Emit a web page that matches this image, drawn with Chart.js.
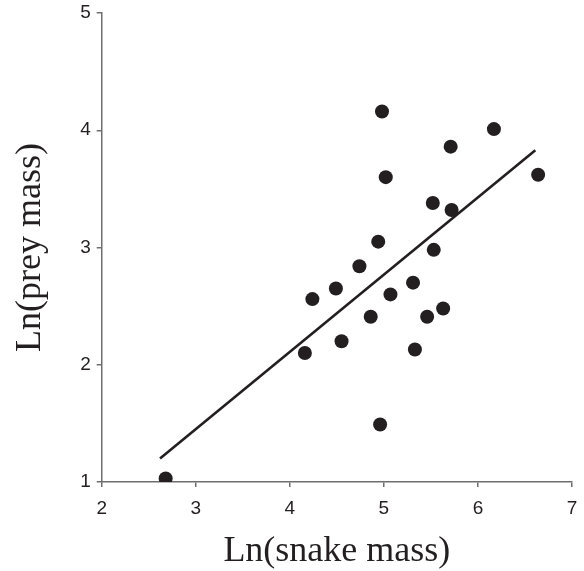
<!DOCTYPE html>
<html>
<head>
<meta charset="utf-8">
<script src="https://cdn.jsdelivr.net/npm/chart.js@4/dist/chart.umd.min.js"></script>
<style>
  html, body { margin: 0; padding: 0; background: #fff; }
  #wrap { width: 584px; height: 571px; }
</style>
</head>
<body>
<div id="wrap"><canvas id="scatterChart"></canvas></div>
<script>
// snake vs prey mass (log scale)
const snakeMass = [4.98, 6.17, 5.71, 5.02, 6.64, 5.52, 5.72, 4.94, 5.53, 4.74, 4.49,
                   4.24, 5.31, 5.07, 5.63, 4.86, 5.46, 4.55, 4.16, 5.33, 4.96, 2.68];
const preyMass  = [4.16, 4.01, 3.86, 3.60, 3.62, 3.38, 3.32, 3.05, 2.98, 2.84, 2.65,
                   2.56, 2.70, 2.60, 2.48, 2.41, 2.41, 2.20, 2.10, 2.13, 1.49, 1.03];

// fitted line end points
const fitX = [2.62, 6.61];
const fitY = [1.20, 3.83];

const xTicks = [2, 3, 4, 5, 6, 7];
const yTicks = [1, 2, 3, 4, 5];

const ink = '#231f20';
const axisGrey = '#6e6e6e';

const points = snakeMass.map((x, i) => ({ x: x, y: preyMass[i] }));
const fitLine = fitX.map((x, i) => ({ x: x, y: fitY[i] }));

function axisStyle(ticks, min, max) {
    return {
        type: 'linear',
        min: min,
        max: max,
        afterBuildTicks: (scale) => { scale.ticks = ticks.map(v => ({ value: v })); },
        border: { display: true, color: axisGrey, width: 1.5 },
        grid: {
            display: true,
            drawOnChartArea: false,
            drawTicks: true,
            tickLength: 5,
            color: axisGrey,
            lineWidth: 1.5
        },
        ticks: {
            color: ink,
            font: { family: '"Liberation Sans", Arial, sans-serif', size: 19 },
            padding: 6,
            maxRotation: 0
        }
    };
}

const xScale = axisStyle(xTicks, 2, 7);
xScale.position = 'bottom';
xScale.ticks.padding = 10;
xScale.title = {
    display: true,
    text: 'Ln(snake mass)',
    color: ink,
    font: { family: '"Liberation Serif", "Times New Roman", serif', size: 36, lineHeight: 1 },
    padding: { top: 0, bottom: 1 }
};
xScale.afterFit = (scale) => {
    scale.height = 89;
    scale.paddingLeft = 0;
    scale.paddingRight = 0;
};

const yScale = axisStyle(yTicks, 1, 5);
yScale.position = 'left';
yScale.title = {
    display: true,
    text: 'Ln(prey mass)',
    color: ink,
    font: { family: '"Liberation Serif", "Times New Roman", serif', size: 36, lineHeight: 1 },
    padding: { top: 13, bottom: 0 }
};
yScale.afterFit = (scale) => {
    scale.width = 101.7;
    scale.paddingTop = 0;
    scale.paddingBottom = 0;
};

new Chart(document.getElementById('scatterChart').getContext('2d'), {
    type: 'scatter',
    data: {
        datasets: [
            {
                type: 'line',
                data: fitLine,
                borderColor: ink,
                borderWidth: 2.6,
                pointRadius: 0,
                fill: false,
                tension: 0
            },
            {
                data: points,
                backgroundColor: ink,
                borderColor: ink,
                borderWidth: 0,
                pointRadius: 7
            }
        ]
    },
    options: {
        responsive: true,
        maintainAspectRatio: false,
        animation: false,
        layout: { padding: { top: 13, right: 12, left: 0, bottom: 0 } },
        plugins: { legend: { display: false }, tooltip: { enabled: false } },
        scales: { x: xScale, y: yScale }
    }
});
</script>
</body>
</html>
